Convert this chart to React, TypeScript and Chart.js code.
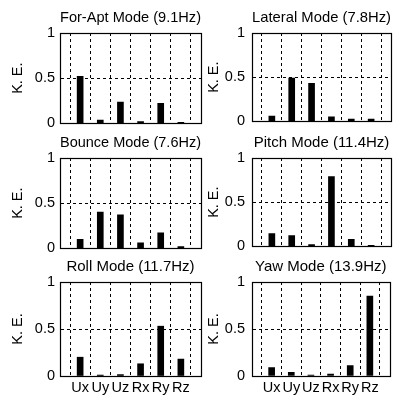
import React, { useEffect, useRef } from 'react';
import { Chart, registerables } from 'chart.js';

Chart.register(...registerables);

const categories = ['Ux', 'Uy', 'Uz', 'Rx', 'Ry', 'Rz'];
const yTicks = [0, 0.5, 1];
const yLabel = 'K. E.';

const forAptKE = [0.52, 0.035, 0.235, 0.02, 0.22, 0.01];
const lateralKE = [0.06, 0.49, 0.43, 0.05, 0.025, 0.025];
const bounceKE = [0.1, 0.4, 0.37, 0.06, 0.17, 0.02];
const pitchKE = [0.145, 0.12, 0.02, 0.79, 0.08, 0.01];
const rollKE = [0.2, 0.01, 0.015, 0.13, 0.53, 0.18];
const yawKE = [0.09, 0.04, 0.01, 0.02, 0.11, 0.85];

const modeTitles = [
  'For-Apt Mode (9.1Hz)',
  'Lateral Mode (7.8Hz)',
  'Bounce Mode (7.6Hz)',
  'Pitch Mode (11.4Hz)',
  'Roll Mode (11.7Hz)',
  'Yaw Mode (13.9Hz)',
];
const modeValues = [forAptKE, lateralKE, bounceKE, pitchKE, rollKE, yawKE];

const FONT = "'Liberation Sans', Arial, Helvetica, sans-serif";
const FS = 14.5;
const TFS = 15;

const rowTops = [0, 125, 249];
const rowHeights = [137, 137, 149];
const colLefts = [0, 205];
const colWidths = [205, 188];

const boxPlugin = {
  id: 'axesBox',
  afterDatasetsDraw(chart: any) {
    const { ctx, chartArea: a } = chart;
    ctx.save();
    ctx.strokeStyle = '#000';
    ctx.lineWidth = 1.2;
    const l = Math.round(a.left) + 0.5;
    const t = Math.round(a.top) + 0.5;
    const r = Math.round(a.right) + 0.5;
    const b = Math.round(a.bottom) + 0.5;
    ctx.strokeRect(l, t, r - l, b - t);
    ctx.restore();
  },
};

function ModeChart({ idx }: { idx: number }) {
  const ref = useRef<HTMLCanvasElement | null>(null);
  const row = Math.floor(idx / 2);
  const col = idx % 2;
  const showX = row === 2;
  useEffect(() => {
    if (!ref.current) return;
    const font = { family: FONT, size: FS, weight: 'normal' as const };
    const tfont = { family: FONT, size: TFS, weight: 'normal' as const };
    const chart = new Chart(ref.current, {
      type: 'bar',
      data: {
        labels: ['', ...categories, ''],
        datasets: [
          {
            data: [null, ...modeValues[idx], null] as any,
            backgroundColor: '#000',
            borderWidth: 0,
            barThickness: 6,
          },
        ],
      },
      options: {
        animation: false,
        responsive: false,
        devicePixelRatio: 1,
        layout: { padding: { left: 0, right: col === 0 ? 4 : 2, top: 0, bottom: 0 } },
        plugins: {
          legend: { display: false },
          tooltip: { enabled: false },
          title: {
            display: true,
            text: modeTitles[idx],
            color: '#000',
            font: tfont,
            fullSize: false,
            padding: { top: 8.5, bottom: 6.5 },
          },
        },
        scales: {
          x: {
            type: 'category',
            offset: false,
            grid: { display: true, color: '#000', lineWidth: 1, drawTicks: false },
            border: { display: true, color: '#000', width: 1, dash: [3, 3] },
            ticks: {
              display: showX,
              autoSkip: false,
              maxRotation: 0,
              minRotation: 0,
              padding: 3.5,
              color: '#000',
              font,
            },
            afterFit: (s: any) => {
              s.height = showX ? 22 : 10;
            },
          },
          y: {
            min: 0,
            max: 1,
            afterBuildTicks: (s: any) => {
              s.ticks = yTicks.map((v) => ({ value: v }));
            },
            grid: { display: true, color: '#000', lineWidth: 1, drawTicks: false },
            border: { display: true, color: '#000', width: 1, dash: [3, 3] },
            ticks: {
              padding: col === 0 ? 5 : 7,
              color: '#000',
              font,
              callback: (v: any) => String(Number(v)),
            },
            title: {
              display: true,
              text: yLabel,
              color: '#000',
              font,
              padding: { top: col === 0 ? 8.8 : 0, bottom: 0 },
            },
            afterFit: (s: any) => {
              s.width = col === 0 ? 60 : 47;
            },
          },
        },
      },
      plugins: [boxPlugin],
    });
    return () => chart.destroy();
  }, [idx]);
  return (
    <canvas
      ref={ref}
      width={colWidths[col]}
      height={rowHeights[row]}
      style={{
        position: 'absolute',
        left: colLefts[col],
        top: rowTops[row],
        width: colWidths[col],
        height: rowHeights[row],
      }}
    />
  );
}

export default function App() {
  return (
    <div
      style={{
        position: 'absolute',
        left: 0,
        top: 0,
        width: 393,
        height: 398,
        background: '#fff',
        overflow: 'hidden',
      }}
    >
      {modeTitles.map((_, i) => (
        <ModeChart key={i} idx={i} />
      ))}
    </div>
  );
}
